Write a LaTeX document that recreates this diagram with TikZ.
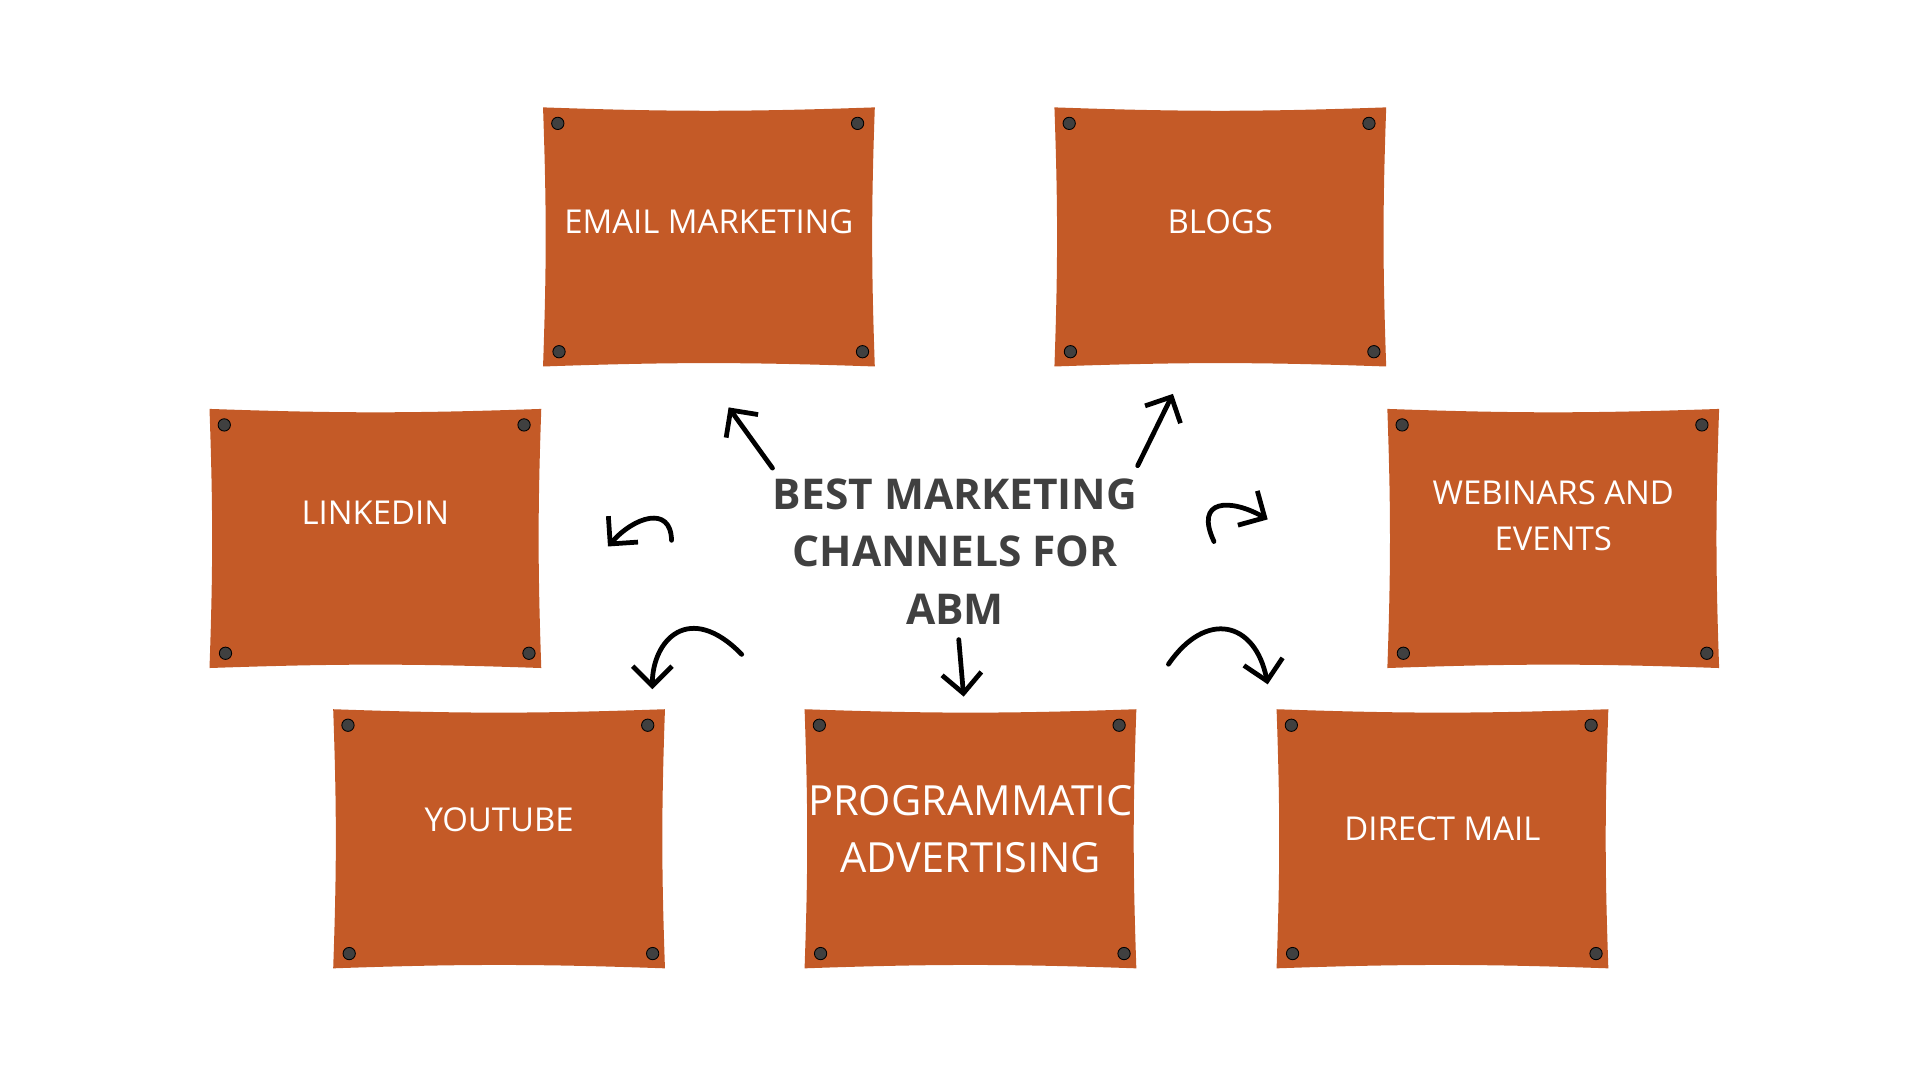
\documentclass[tikz,border=0pt]{standalone}
\usepackage{fontspec}
\setmainfont{Open Sans}
\usetikzlibrary{positioning,calc,arrows.meta}
\definecolor{boardcol}{HTML}{C45A27}
\definecolor{pincol}{HTML}{404040}
\definecolor{titlecol}{HTML}{404040}

\begin{document}
\begin{tikzpicture}[
    x=0.01cm, y=-0.01cm,
    board/.style={rectangle, draw=none, minimum width=2.68cm, minimum height=2.09cm, inner sep=0pt},
    label/.style={text=white, font=\fontsize{7.6}{10.5}\selectfont, align=center},
    pin/.style={fill=pincol, draw=black, line width=0.2pt},
    arrow/.style={draw, line width=1.1pt, line cap=round, -{Straight Barb[length=1.6mm, width=3.2mm]}}
]
    \useasboundingbox (0,0) rectangle (1560,878);
    % Boards
    \node (email) [board] at (576,192.5) {};
    \node (blogs) [board] at (991.5,192.5) {};
    \node (linkedin) [board] at (305,437.5) {};
    \node (webinars) [board] at (1262,437.5) {};
    \node (youtube) [board] at (405.5,681.5) {};
    \node (prog) [board] at (788.5,681.5) {};
    \node (mail) [board] at (1172,681.5) {};

    \foreach \b in {email,blogs,linkedin,webinars,youtube,prog,mail} {
        \fill[boardcol] (\b.north west) to[bend right=2] (\b.north east)
            to[bend right=2] (\b.south east) to[bend right=2] (\b.south west)
            to[bend right=2] cycle;
        \filldraw[pin] ($(\b.north west)+(12,13)$) circle (5);
        \filldraw[pin] ($(\b.north east)+(-14,13)$) circle (5);
        \filldraw[pin] ($(\b.south west)+(13,-12)$) circle (5);
        \filldraw[pin] ($(\b.south east)+(-10,-12)$) circle (5);
    }

    % Texts
    \node (emailtxt) [label] at (576,180) {EMAIL MARKETING};
    \node (blogstxt) [label] at (991.5,180) {BLOGS};
    \node (linkedintxt) [label] at (305,417) {LINKEDIN};
    \node (webinarstxt) [label] at (1262,419) {WEBINARS AND\\EVENTS};
    \node (youtubetxt) [label] at (405.5,666) {YOUTUBE};
    \node (progtxt) [label, font=\fontsize{9.6}{13.2}\selectfont] at (788.5,674) {PROGRAMMATIC\\ADVERTISING};
    \node (mailtxt) [label] at (1172,673) {DIRECT MAIL};
    \node (title) [align=center, text=titlecol, font=\bfseries\fontsize{9.8}{13.3}\selectfont] at (776,448) {BEST MARKETING\\CHANNELS FOR\\ABM};

    % Arrow ends
    \coordinate (toemail) at (592,331);
    \coordinate (toblogs) at (953,320);
    \coordinate (tolinkedin) at (494,444);
    \coordinate (towebinars) at (1030,422);
    \coordinate (toyoutube) at (530,560);
    \coordinate (toprog) at (783,566);
    \coordinate (tomail) at (1030,556);

    % Connections
    \path [arrow] ($(title.north west)+(12,4)$) -- (toemail);
    \path [arrow] ($(title.north east)+(-12,2)$) -- (toblogs);
    \path [arrow] ($(title.west)+(-70,-9)$) .. controls (545,410) and (515,420) .. (tolinkedin);
    \path [arrow] ($(title.east)+(50,-8)$) .. controls (970,405) and (1000,405) .. (towebinars);
    \path [arrow] ($(title.south west)+(-13,12)$) .. controls (560,488) and (530,520) .. (toyoutube);
    \path [arrow] ($(title.south)+(3,0)$) -- (toprog);
    \path [arrow] ($(title.south east)+(13,20)$) .. controls (980,495) and (1020,505) .. (tomail);
\end{tikzpicture}
\end{document}
